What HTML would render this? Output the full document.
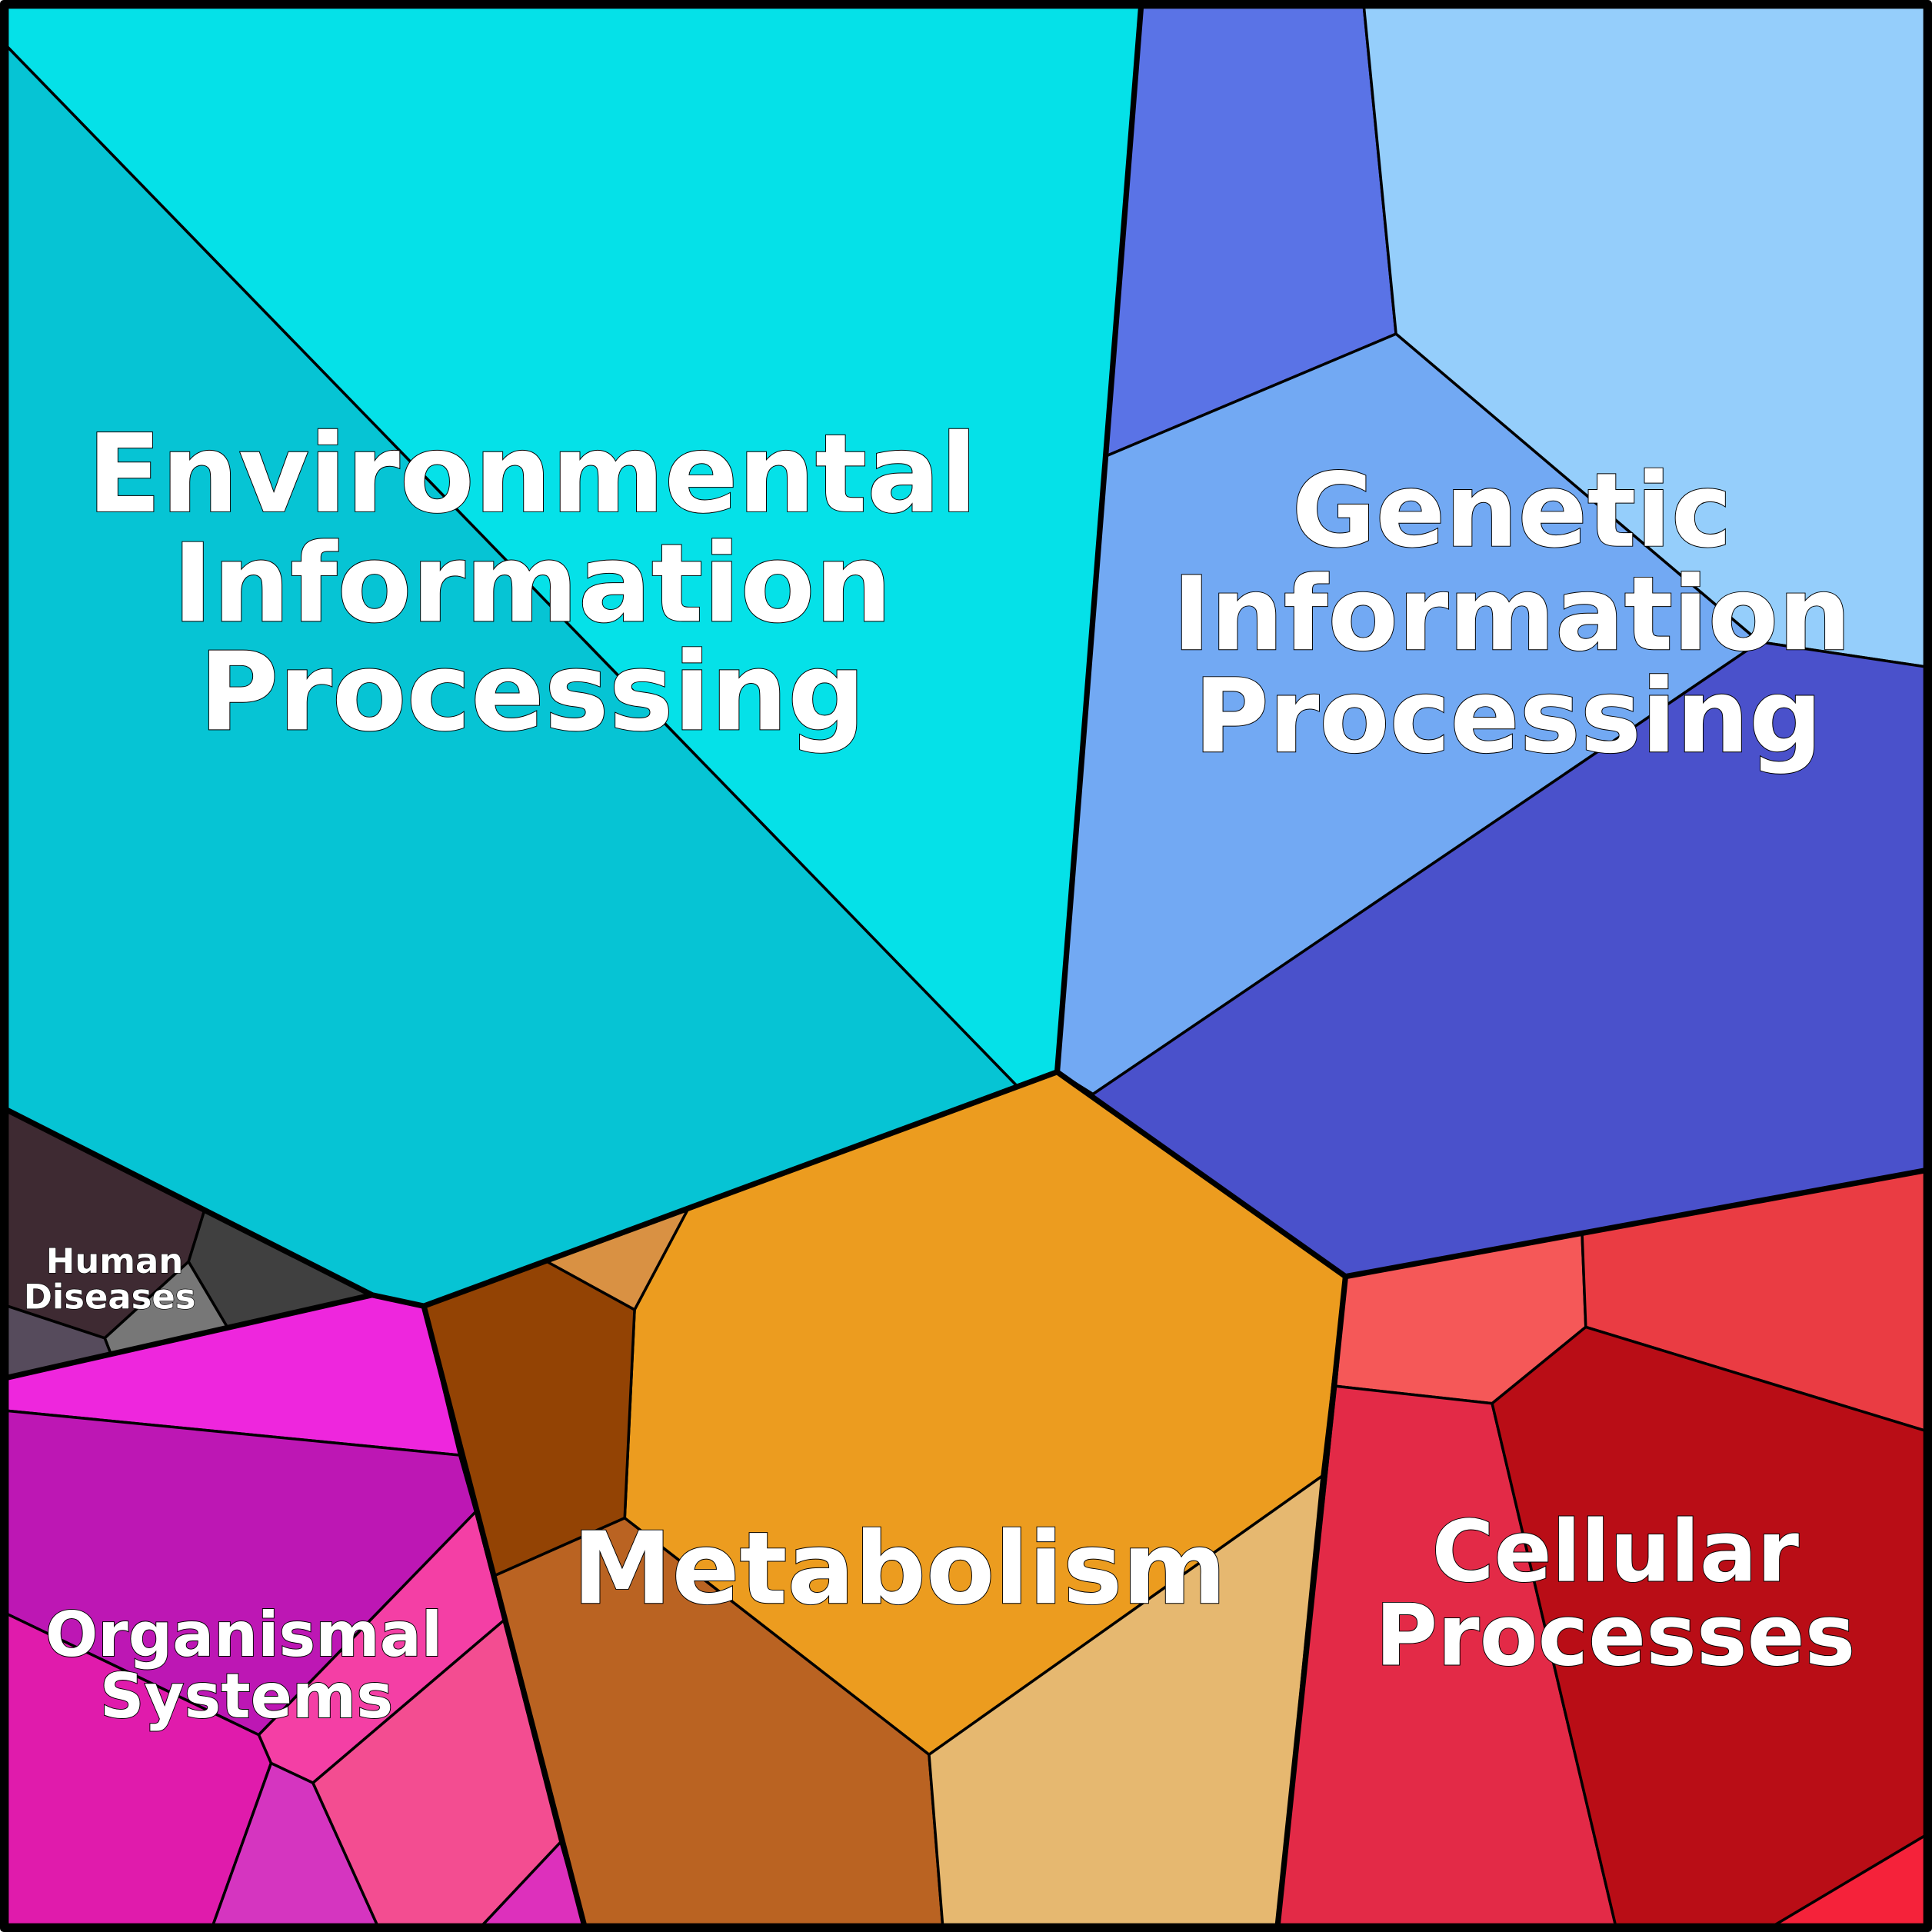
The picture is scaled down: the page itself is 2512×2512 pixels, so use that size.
<!DOCTYPE html>
<html><head><meta charset="utf-8"><style>html,body{margin:0;padding:0;background:#fff}svg{display:block}</style></head>
<body>
<svg width="2512" height="2512" viewBox="0 0 1568 1568" xmlns="http://www.w3.org/2000/svg">
<g stroke="#000" stroke-width="2.2" stroke-linejoin="round">
<polygon fill="#05E1E8" points="6,6 926,6 858,870 825,881 6,38"/>
<polygon fill="#06C4D4" points="6,38 825,881 344,1060 302,1051 6,901"/>
<polygon fill="#5A73E6" points="926,6 1107,6 1133,271 898,370"/>
<polygon fill="#95CEFB" points="1107,6 1562,6 1562,541 1428,521 1133,271"/>
<polygon fill="#72A9F3" points="898,370 1133,271 1428,521 887,888 858,870"/>
<polygon fill="#4A51CB" points="887,888 1428,521 1562,541 1562,950 1092,1036 858,870"/>
<polygon fill="#EC9C1F" points="558,982 858,870 1092,1036 1073,1198 754,1424 507,1232 515,1063"/>
<polygon fill="#D99143" points="444,1024 558,982 515,1063"/>
<polygon fill="#934304" points="344,1060 444,1024 515,1063 507,1232 401,1279"/>
<polygon fill="#BA6322" points="401,1279 507,1232 754,1424 765,1562 474,1562"/>
<polygon fill="#E6B870" points="754,1424 1073,1198 1037,1562 765,1562"/>
<polygon fill="#F55858" points="1092,1036 1284,1001 1287,1077 1211,1139 1084,1125"/>
<polygon fill="#EA3C43" points="1284,1001 1562,950 1562,1161 1287,1077"/>
<polygon fill="#E32A47" points="1084,1125 1211,1139 1311,1562 1037,1562"/>
<polygon fill="#B90D16" points="1211,1139 1287,1077 1562,1161 1562,1490 1441,1562 1311,1562"/>
<polygon fill="#F5223A" points="1441,1562 1562,1490 1562,1562"/>
<polygon fill="#3E2A32" points="6,901 166,982 153,1024 85,1086 6,1060"/>
<polygon fill="#404040" points="166,982 302,1051 185,1078 153,1024"/>
<polygon fill="#777777" points="153,1024 185,1078 90,1099 85,1086"/>
<polygon fill="#564B5C" points="6,1060 85,1086 90,1099 6,1118"/>
<polygon fill="#EE26DD" points="6,1118 302,1051 344,1060 373,1181 6,1145"/>
<polygon fill="#BD17B4" points="6,1145 373,1181 386,1227 210,1408 6,1310"/>
<polygon fill="#F43FA5" points="386,1227 409,1315 254,1447 220,1431 210,1408"/>
<polygon fill="#E01BAC" points="6,1310 210,1408 220,1431 173,1562 6,1562"/>
<polygon fill="#D535C0" points="220,1431 254,1447 306,1562 173,1562"/>
<polygon fill="#F34D91" points="254,1447 409,1315 455,1495 392,1562 306,1562"/>
<polygon fill="#DD30BC" points="392,1562 455,1495 474,1562"/>
</g>
<g fill="none" stroke="#000" stroke-width="4.5" stroke-linejoin="round">
<polyline points="926,6 858,870 344,1060 302,1051 6,901"/>
<polyline points="858,870 1092,1036 1562,950"/>
<polyline points="1092,1036 1037,1562"/>
<polyline points="344,1060 474,1562"/>
<polyline points="6,1118 302,1051"/>
<rect x="3" y="3" width="1562" height="1562" stroke-width="6"/>
</g>
<g font-family="'DejaVu Sans','Liberation Sans',sans-serif" font-weight="bold" fill="#fff" stroke="#000" stroke-width="1.2" text-anchor="middle" paint-order="stroke">
<g font-size="88"><text x="432" y="415">Environmental</text><text x="432" y="504">Information</text><text x="432" y="592">Processing</text></g>
<g font-size="83"><text x="1227" y="443">Genetic</text><text x="1227" y="527">Information</text><text x="1224" y="610">Processing</text></g>
<text x="730" y="1301" font-size="81">Metabolism</text>
<g font-size="69"><text x="1311" y="1283">Cellular</text><text x="1311" y="1351">Processes</text></g>
<g font-size="50"><text x="198" y="1344">Organismal</text><text x="200" y="1394">Systems</text></g>
<g font-size="28" stroke-width="0.8"><text x="93" y="1033">Human</text><text x="89" y="1062">Diseases</text></g>
</g>
</svg>
</body></html>
